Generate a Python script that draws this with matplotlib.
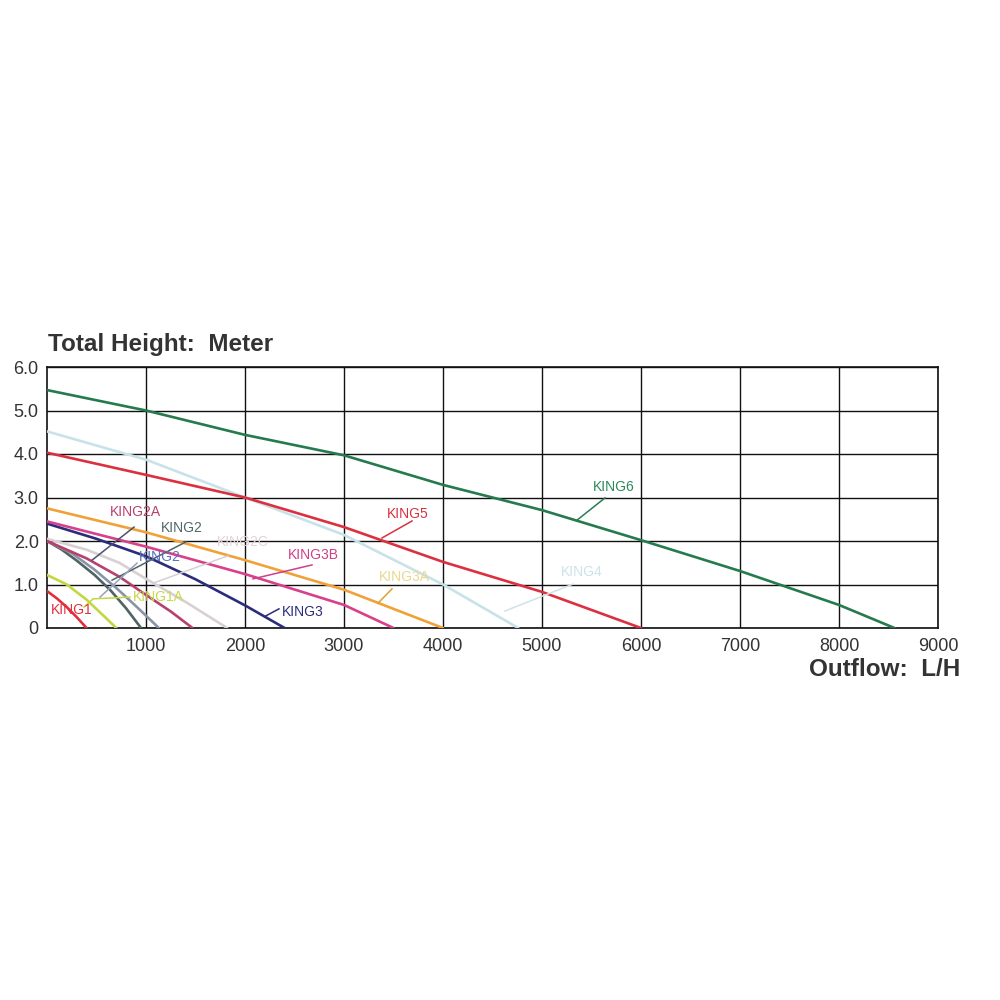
import matplotlib
matplotlib.use("Agg")
import matplotlib.pyplot as plt

plt.rcParams['font.family'] = ['Liberation Sans', 'DejaVu Sans']

# ---- data ----
king6_x = [0, 1000, 2000, 3000, 4000, 5000, 6000, 7000, 8000, 8560]
king6_y = [5.47, 5.0, 4.44, 3.97, 3.29, 2.71, 2.02, 1.31, 0.53, 0]

king5_x = [0, 1000, 2000, 3000, 4000, 5000, 6000]
king5_y = [4.03, 3.52, 3.0, 2.32, 1.52, 0.83, 0]

king4_x = [0, 1000, 2000, 3000, 4000, 4760]
king4_y = [4.52, 3.87, 3.0, 2.14, 1.0, 0]

king3a_x = [0, 1000, 2000, 3000, 4000]
king3a_y = [2.75, 2.2, 1.56, 0.88, 0]

king3b_x = [0, 1000, 2000, 3000, 3500]
king3b_y = [2.45, 1.87, 1.24, 0.53, 0]

king3_x = [0, 500, 1000, 1500, 2000, 2400]
king3_y = [2.4, 2.05, 1.65, 1.12, 0.52, 0]

king2c_x = [0, 400, 730, 1000, 1400, 1820]
king2c_y = [2.05, 1.8, 1.5, 1.13, 0.6, 0]

king2a_x = [0, 400, 730, 1000, 1250, 1470]
king2a_y = [2.0, 1.6, 1.18, 0.76, 0.38, 0]

king2b_x = [0, 250, 475, 700, 900, 1130]
king2b_y = [2.0, 1.72, 1.35, 0.92, 0.5, 0]

king2_x = [0, 150, 300, 480, 640, 800, 950]
king2_y = [2.0, 1.8, 1.55, 1.22, 0.87, 0.45, 0]

king1a_x = [0, 200, 400, 600, 700]
king1a_y = [1.22, 1.0, 0.65, 0.22, 0]

king1_x = [0, 100, 200, 300, 400]
king1_y = [0.85, 0.68, 0.48, 0.25, 0]

x_ticks = [1000, 2000, 3000, 4000, 5000, 6000, 7000, 8000, 9000]
x_tick_labels = ['1000', '2000', '3000', '4000', '5000', '6000', '7000', '8000', '9000']
y_ticks = [0, 1, 2, 3, 4, 5, 6]
y_tick_labels = ['0', '1.0', '2.0', '3.0', '4.0', '5.0', '6.0']

series = [
    (king1_x, king1_y, '#e0303e'),
    (king1a_x, king1a_y, '#c4d642'),
    (king2_x, king2_y, '#4f6464'),
    (king2b_x, king2b_y, '#8a94a8'),
    (king2c_x, king2c_y, '#d8d0d4'),
    (king2a_x, king2a_y, '#b8406e'),
    (king3_x, king3_y, '#2b2c7c'),
    (king3b_x, king3b_y, '#d8408a'),
    (king3a_x, king3a_y, '#f0a238'),
    (king4_x, king4_y, '#c8e2ea'),
    (king5_x, king5_y, '#dc3040'),
    (king6_x, king6_y, '#257a4e'),
]

# label: text, label pos, pointer segments, text colour, pointer colour
labels = [
    ('KING6', (5727, 3.24), [(5636, 2.99), (5354, 2.48)], '#2a8a5a', '#2a7d52'),
    ('KING5', (3646, 2.62), [(3687, 2.46), (3384, 2.07)], '#d83040', '#d83040'),
    ('KING4', (5404, 1.29), [(5313, 1.01), (4626, 0.39)], '#cfe2ea', '#cfe2ea'),
    ('KING3A', (3606, 1.17), [(3485, 0.90), (3343, 0.57)], '#e8d890', '#e0a030'),
    ('KING3B', (2687, 1.68), [(2677, 1.45), (2081, 1.13)], '#d03f88', '#d03f88'),
    ('KING3', (2586, 0.37), [(2343, 0.44), (2212, 0.28)], '#2b2c7c', '#2b2c7c'),
    ('KING2A', (889, 2.67), [(879, 2.32), (455, 1.56)], '#b8406e', '#4f4f6a'),
    ('KING2', (1364, 2.30), [(1404, 1.98), (657, 1.10)], '#4f6868', '#4f6464'),
    ('KING2', (1141, 1.63), [(909, 1.49), (535, 0.71)], '#5a70c0', '#9aa0b8'),
    ('KING2C', (1980, 1.98), [(1828, 1.66), (1071, 1.03)], '#e4d2d8', '#d8d0d4'),
    ('KING1A', (1121, 0.71), [(838, 0.71), (465, 0.67), (374, 0.48)], '#c8d848', '#c4d642'),
    ('KING1', (250, 0.41), [], '#e0303e', '#e0303e'),
]

fig = plt.figure(figsize=(10, 10), dpi=100)
fig.patch.set_facecolor('white')
ax = fig.add_axes([0.047, 0.372, 0.891, 0.261])

for xs, ys, c in series:
    ax.plot(xs, ys, color=c, lw=1.9, solid_capstyle='round', zorder=3)

for text, pos, pts, tc, lc in labels:
    ax.text(pos[0], pos[1], text, color=tc, fontsize=10, ha='center', va='center', zorder=5)
    if pts:
        ax.plot([p[0] for p in pts], [p[1] for p in pts], color=lc, lw=1.1, zorder=4)

ax.set_xlim(0, 9000)
ax.set_ylim(0, 6)
ax.set_xticks(x_ticks)
ax.set_xticklabels(x_tick_labels)
ax.set_yticks(y_ticks)
ax.set_yticklabels(y_tick_labels)
ax.tick_params(length=0, labelsize=13, labelcolor='#333333')
ax.tick_params(axis='x', pad=7)
ax.tick_params(axis='y', pad=6)
ax.grid(True, color='#111111', lw=1.0, zorder=1)
for s in ax.spines.values():
    s.set_color('#111111')
    s.set_linewidth(1.2)

fig.text(0.048, 0.655, 'Total Height:  Meter', fontsize=17.5, fontweight='bold',
         color='#333333', ha='left', va='center')
fig.text(0.960, 0.331, 'Outflow:  L/H', fontsize=17.5, fontweight='bold',
         color='#333333', ha='right', va='center')

fig.savefig('out.png', dpi=100, facecolor='white')
